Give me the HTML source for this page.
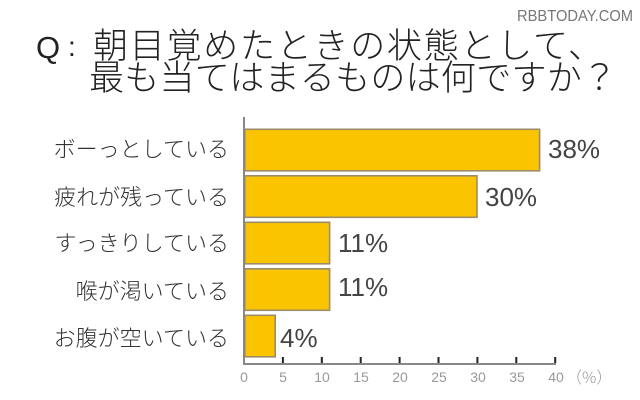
<!DOCTYPE html>
<html><head><meta charset="utf-8">
<style>
html,body{margin:0;padding:0;background:#fff;}
svg{display:block;}
</style></head>
<body>
<svg width="640" height="400" viewBox="0 0 640 400" xmlns="http://www.w3.org/2000/svg">
<rect width="640" height="400" fill="#fff"/>
<text x="517" y="21" font-family="Liberation Sans, sans-serif" font-size="16" fill="#777" textLength="116" lengthAdjust="spacingAndGlyphs">RBBTODAY.COM</text>

<text x="36" y="58" font-family="Liberation Sans, sans-serif" font-size="31" fill="#222">Q</text>
<text x="68" y="56" font-family="Liberation Sans, sans-serif" font-size="28" fill="#222">:</text>
<text x="93" y="58" font-family="Noto Sans CJK JP, sans-serif" font-size="35" font-weight="300" fill="#222" textLength="510" lengthAdjust="spacing">朝目覚めたときの状態として、</text>
<text x="89" y="90" font-family="Noto Sans CJK JP, sans-serif" font-size="35" font-weight="300" fill="#222" textLength="528" lengthAdjust="spacing">最も当てはまるものは何ですか？</text>

<g font-family="Noto Sans CJK JP, sans-serif" font-size="22" font-weight="300" fill="#333" text-anchor="end">
<text x="229" y="157">ボーっとしている</text>
<text x="229" y="205">疲れが残っている</text>
<text x="229" y="251">すっきりしている</text>
<text x="229" y="299">喉が渇いている</text>
<text x="229" y="346">お腹が空いている</text>
</g>

<g fill="#FAC500" stroke="#9d8c68" stroke-width="1.6">
<rect x="244.8" y="129.3" width="294.8" height="41.5"/>
<rect x="244.8" y="175.8" width="232.2" height="41.5"/>
<rect x="244.8" y="222.3" width="84.8" height="41.5"/>
<rect x="244.8" y="268.8" width="84.8" height="41.5"/>
<rect x="244.8" y="315.3" width="30.4" height="41.5"/>
</g>

<g font-family="Liberation Sans, sans-serif" font-size="26" fill="#444">
<text x="548" y="158">38%</text>
<text x="485" y="206">30%</text>
<text x="338" y="252">11%</text>
<text x="338" y="296">11%</text>
<text x="280" y="347">4%</text>
</g>

<line x1="244" y1="117" x2="244" y2="365" stroke="#888" stroke-width="2"/>
<line x1="243" y1="364" x2="556" y2="364" stroke="#888" stroke-width="2"/>
<g stroke="#222" stroke-width="2">
<line x1="282.9" y1="357" x2="282.9" y2="363"/>
<line x1="321.8" y1="357" x2="321.8" y2="363"/>
<line x1="360.7" y1="357" x2="360.7" y2="363"/>
<line x1="399.6" y1="357" x2="399.6" y2="363"/>
<line x1="438.5" y1="357" x2="438.5" y2="363"/>
<line x1="477.4" y1="357" x2="477.4" y2="363"/>
<line x1="516.3" y1="357" x2="516.3" y2="363"/>
<line x1="555.2" y1="357" x2="555.2" y2="363"/>
</g>
<g font-family="Liberation Sans, sans-serif" font-size="14" fill="#999" text-anchor="middle">
<text x="244" y="382">0</text>
<text x="283" y="382">5</text>
<text x="322" y="382">10</text>
<text x="361" y="382">15</text>
<text x="400" y="382">20</text>
<text x="439" y="382">25</text>
<text x="478" y="382">30</text>
<text x="517" y="382">35</text>
<text x="556" y="382">40</text>
</g>
<text x="566" y="383" font-family="Noto Sans CJK JP, sans-serif" font-size="16" font-weight="300" fill="#999">（%）</text>
</svg>
</body></html>
